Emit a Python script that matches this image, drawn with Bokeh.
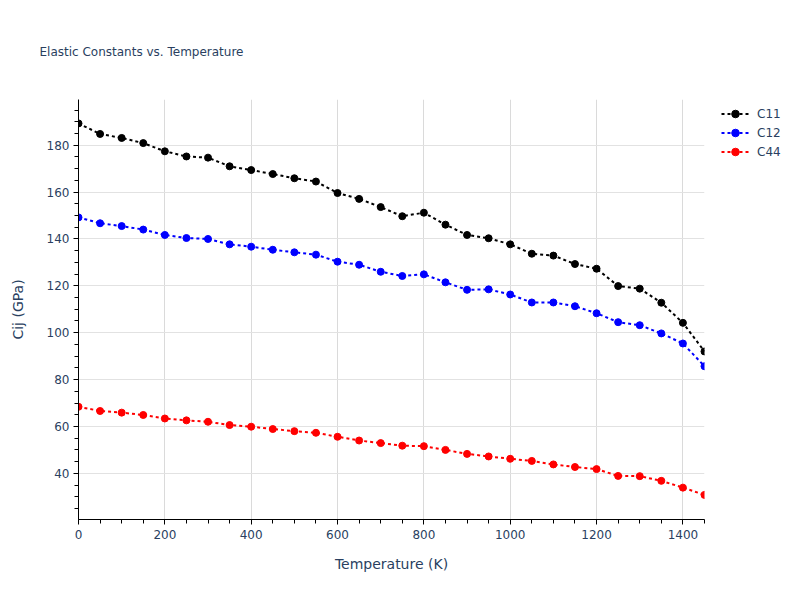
from bokeh.plotting import figure
from bokeh.models import (ColumnDataSource, Legend, LegendItem, Range1d,
                          SingleIntervalTicker, Title)
from bokeh.embed import file_html
from bokeh.resources import INLINE

temperature = [0, 50, 100, 150, 200, 250, 300, 350, 400, 450, 500, 550, 600, 650,
               700, 750, 800, 850, 900, 950, 1000, 1050, 1100, 1150, 1200, 1250,
               1300, 1350, 1400, 1450]
c11 = [189.3, 184.8, 183.1, 180.9, 177.4, 175.2, 174.7, 171.0, 169.4, 167.7,
       165.9, 164.5, 159.6, 157.1, 153.6, 149.7, 151.2, 146.1, 141.7, 140.3,
       137.7, 133.7, 132.9, 129.3, 127.3, 119.9, 118.8, 112.8, 104.2, 92.0]
c12 = [149.2, 146.7, 145.5, 144.0, 141.7, 140.4, 140.0, 137.7, 136.7, 135.4,
       134.3, 133.3, 130.3, 129.0, 126.0, 124.2, 124.9, 121.5, 118.3, 118.5,
       116.3, 112.9, 112.9, 111.3, 108.3, 104.5, 103.2, 99.7, 95.4, 85.7]
c44 = [68.4, 66.6, 65.9, 64.9, 63.4, 62.6, 62.0, 60.6, 59.9, 58.9,
       58.0, 57.3, 55.6, 54.0, 52.9, 51.8, 51.6, 50.0, 48.3, 47.2,
       46.2, 45.3, 43.8, 42.7, 41.8, 38.9, 38.8, 36.8, 33.9, 30.8]
series_names = ["C11", "C12", "C44"]
series_colors = ["black", "blue", "red"]
title_text = "Elastic Constants vs. Temperature"
x_label = "Temperature (K)"
y_label = "Cij (GPa)"

FONT = "DejaVu Sans"
TXT = "#2a3f5f"

p = figure(output_backend="svg", toolbar_location=None,
           frame_width=626, frame_height=420,
           min_border_left=78, min_border_right=87,
           min_border_top=99, min_border_bottom=70,
           x_range=Range1d(0, 1450), y_range=Range1d(20.3, 199.5))
p.outline_line_color = None
p.background_fill_color = "white"

src = ColumnDataSource(dict(t=temperature, C11=c11, C12=c12, C44=c44))
items = []
for name, col in zip(series_names, series_colors):
    lr = p.line("t", name, source=src, line_color=col, line_width=2,
                line_dash="3 3")
    sr = p.scatter("t", name, source=src, size=7, fill_color=col,
                   line_color=col)
    items.append(LegendItem(label=name, renderers=[lr, sr]))

legend = Legend(items=items, location=(17, 357.8), padding=0, margin=0,
                spacing=0, label_height=19, glyph_height=19, glyph_width=28,
                label_standoff=8, label_text_font=FONT,
                label_text_font_size="12px", label_text_color=TXT,
                background_fill_alpha=0, border_line_alpha=0)
p.add_layout(legend, "right")

p.xaxis.ticker = SingleIntervalTicker(interval=200, num_minor_ticks=4)
p.yaxis.ticker = SingleIntervalTicker(interval=20, num_minor_ticks=4)
for ax in (p.xaxis, p.yaxis):
    ax.axis_line_color = "black"
    ax.major_tick_line_color = "black"
    ax.minor_tick_line_color = "black"
    ax.major_tick_out = 5
    ax.major_tick_in = 0
    ax.minor_tick_out = 4
    ax.minor_tick_in = 0
    ax.major_label_text_font = FONT
    ax.major_label_text_font_size = "12px"
    ax.major_label_text_color = TXT
    ax.axis_label_text_font = FONT
    ax.axis_label_text_font_size = "14px"
    ax.axis_label_text_font_style = "normal"
    ax.axis_label_text_color = TXT
p.xaxis.axis_label = x_label
p.yaxis.axis_label = y_label
p.xaxis.major_label_standoff = 5
p.yaxis.major_label_standoff = 4
p.xaxis.axis_label_standoff = 14
p.yaxis.axis_label_standoff = 18

p.xgrid.grid_line_color = "#dadada"
p.ygrid.grid_line_color = "#e2e2e2"

p.title = Title(text=title_text, align="left", offset=-39, standoff=82,
                text_font=FONT, text_font_size="12px", text_color=TXT,
                text_font_style="normal")

open("out.html", "w").write(file_html(p, INLINE))
